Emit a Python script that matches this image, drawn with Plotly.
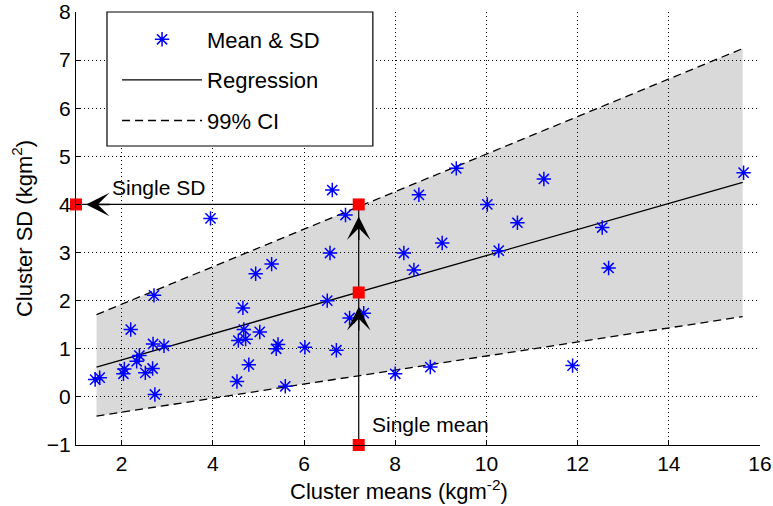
import plotly.graph_objects as go

# ---- data ----
cluster_means = [1.42, 1.52, 2.04, 2.06, 2.20, 2.33, 2.39, 2.52, 2.68, 2.69,
                 2.93, 2.71, 2.73, 3.95, 4.53, 4.56, 4.72, 4.68, 4.66, 4.79,
                 4.94, 5.03, 5.29, 5.39, 5.43, 5.59, 6.02, 6.51, 6.57, 6.62,
                 6.71, 6.91, 7.00, 7.31, 8.00, 8.19, 8.41, 8.52, 8.77, 9.03,
                 9.34, 10.02, 10.27, 10.68, 11.26, 11.89, 12.54, 12.68, 15.64]
cluster_sds = [0.36, 0.40, 0.48, 0.58, 1.40, 0.74, 0.86, 0.50, 0.59, 1.10,
               1.06, 2.11, 0.05, 3.71, 0.32, 1.17, 1.20, 1.40, 1.85, 0.67,
               2.56, 1.35, 2.76, 1.00, 1.09, 0.22, 1.03, 2.00, 2.99, 4.30,
               0.97, 3.78, 1.64, 1.74, 0.48, 2.99, 2.64, 4.20, 0.62, 3.20,
               4.75, 4.00, 3.04, 3.62, 4.53, 0.65, 3.52, 2.68, 4.66]

fit_x = [1.45, 15.62]
fit_y = [0.62, 4.46]
ci_upper = [1.71, 7.24]
ci_lower = [-0.40, 1.67]

single_mean = 7.2
single_sd = 4.0
predicted_sd = 2.17
x_min, y_min = 1.0, -1.0

x_ticks = [2, 4, 6, 8, 10, 12, 14, 16]
y_ticks = [-1, 0, 1, 2, 3, 4, 5, 6, 7, 8]

FONT = "Arial, Liberation Sans, sans-serif"

fig = go.Figure()

# shaded CI band
fig.add_trace(go.Scatter(
    x=fit_x + fit_x[::-1], y=ci_upper + ci_lower[::-1],
    fill="toself", fillcolor="rgba(0,0,0,0.15)", mode="lines",
    line=dict(width=0), hoverinfo="skip", showlegend=False))

# CI dashed lines
fig.add_trace(go.Scatter(x=fit_x, y=ci_upper, mode="lines",
                         line=dict(color="black", width=1.3, dash="8px,5px"),
                         name="99% CI", legendgroup="c", legendrank=3))
fig.add_trace(go.Scatter(x=fit_x, y=ci_lower, mode="lines",
                         line=dict(color="black", width=1.3, dash="8px,5px"),
                         name="99% CI", legendgroup="c", showlegend=False))
# regression
fig.add_trace(go.Scatter(x=fit_x, y=fit_y, mode="lines",
                         line=dict(color="black", width=1.3),
                         name="Regression", legendgroup="b", legendrank=2))
# points
fig.add_trace(go.Scatter(x=cluster_means, y=cluster_sds, mode="markers",
                         marker=dict(symbol="asterisk-open", size=12,
                                     color="#0000ff",
                                     line=dict(color="#0000ff", width=1.5)),
                         name="Mean & SD", legendgroup="a", legendrank=1))

# guide lines
fig.add_trace(go.Scatter(x=[single_mean, single_mean, x_min],
                         y=[y_min, single_sd, single_sd], mode="lines",
                         line=dict(color="black", width=1.2),
                         showlegend=False, hoverinfo="skip"))
# red squares
fig.add_trace(go.Scatter(x=[x_min, single_mean, single_mean, single_mean],
                         y=[single_sd, single_sd, predicted_sd, y_min],
                         mode="markers", cliponaxis=False,
                         marker=dict(symbol="square", size=12, color="#ff0000",
                                     line=dict(width=0)),
                         showlegend=False, hoverinfo="skip"))

arrow = dict(showarrow=True, arrowhead=3, arrowsize=2.8, arrowwidth=1.4,
             arrowcolor="black", xref="x", yref="y", text="")
fig.add_annotation(x=single_mean, y=predicted_sd - 0.3, ax=0, ay=25, **arrow)
fig.add_annotation(x=single_mean, y=single_sd - 0.25, ax=0, ay=25, **arrow)
fig.add_annotation(x=x_min + 0.22, y=single_sd, ax=25, ay=0, **arrow)

fig.add_annotation(x=1.75, y=4.36, text="Single SD", showarrow=False,
                   xanchor="left", yanchor="middle",
                   font=dict(family=FONT, size=21, color="black"))
fig.add_annotation(x=7.45, y=-0.57, text="Single mean", showarrow=False,
                   xanchor="left", yanchor="middle",
                   font=dict(family=FONT, size=21, color="black"))

# x-axis title, placed as in the reference (slightly left of centre)
fig.add_annotation(x=0.472, y=0, xref="paper", yref="paper",
                   yshift=-45, yanchor="middle", showarrow=False,
                   text="Cluster means (kgm<sup>-2</sup>)",
                   font=dict(family=FONT, size=22, color="black"))

# legend frame (white box covering the grid)
fig.add_shape(type="rect", xref="paper", yref="paper",
              x0=0.0453, x1=0.434, y0=0.6905, y1=1.0,
              fillcolor="white", line=dict(color="black", width=1.2),
              layer="above")

axis_common = dict(showline=True, linecolor="black", linewidth=1,
                   ticks="inside", ticklen=5, tickcolor="black",
                   showgrid=True, gridcolor="black", gridwidth=1,
                   griddash="1px,3px", zeroline=False, mirror=False,
                   automargin=False, ticklabeloverflow="allow",
                   tickfont=dict(family=FONT, size=21, color="black"))

fig.update_xaxes(range=[1, 16], tickvals=x_ticks, **axis_common)
fig.update_yaxes(range=[-1, 8], tickvals=y_ticks,
                 title=dict(text="Cluster SD (kgm<sup>2</sup>)",
                            font=dict(family=FONT, size=22, color="black"),
                            standoff=8),
                 **axis_common)

fig.update_layout(
    width=773, height=506,
    margin=dict(l=76, r=13, t=12, b=61, autoexpand=False),
    plot_bgcolor="white", paper_bgcolor="white",
    font=dict(family=FONT, color="black"),
    legend=dict(x=0.06, y=0.985, xanchor="left", yanchor="top",
                bgcolor="rgba(0,0,0,0)", borderwidth=0,
                font=dict(family=FONT, size=22, color="black"),
                itemwidth=80, tracegroupgap=9),
)

# remove the browser's default 8 px body margin so the figure sits at 0,0
fig.write_html("out.html",
               config={"displayModeBar": False},
               post_script="document.body.style.margin='0px';"
                           "document.body.style.overflow='hidden';")
